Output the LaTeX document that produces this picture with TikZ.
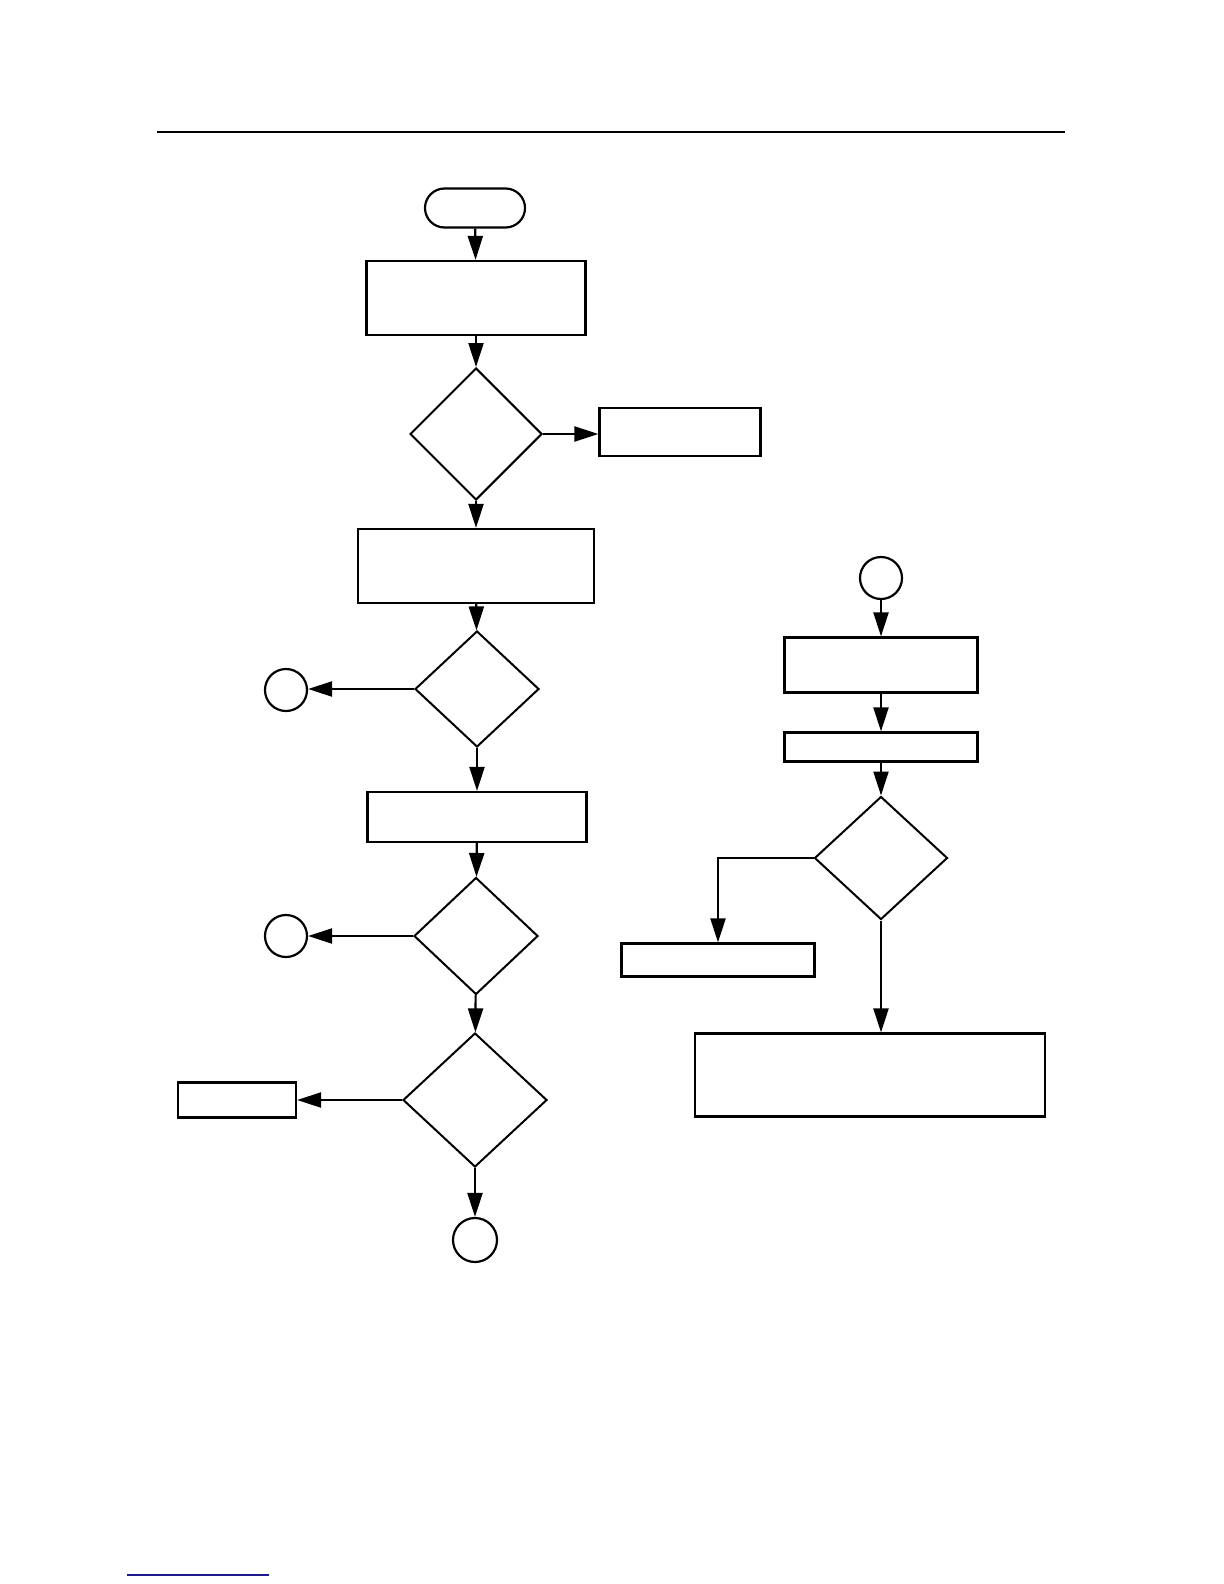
\documentclass[tikz,border=0pt]{standalone}
\usepackage{tikz}
\usetikzlibrary{arrows.meta,positioning,shapes.geometric,shapes.misc}
\definecolor{ink}{HTML}{000000}
\definecolor{linkblue}{HTML}{1A1A8C}
\tikzset{
  flowbox/.style={
    draw=ink,
    line width=1.1pt,
    fill=white,
    inner sep=0pt
  },
  termbox/.style={flowbox, rounded rectangle, minimum width=50pt, minimum height=19.5pt},
  decision/.style={flowbox, diamond, line width=1pt},
  joint/.style={flowbox, circle, minimum size=21pt},
  flowarrow/.style={-{Triangle[length=12pt,width=7.5pt]}, line width=1.1pt, draw=ink}
}

\begin{document}
\begin{tikzpicture}[x=0.5pt, y=-0.5pt]
  \useasboundingbox (0,0) rectangle (1224,1584);
  \draw[line width=1.2pt, draw=ink] (157,132) -- (1065,132);

  % main column
  \node[termbox] (start) at (475,208) {};
  \node[flowbox, minimum width=109.5pt, minimum height=37pt] (init) at (476,298) {};
  \node[decision, minimum width=66pt, minimum height=66pt] (chk1) at (476,434) {};
  \node[flowbox, minimum width=80.5pt, minimum height=24pt] (fail1) at (680,432) {};
  \node[flowbox, minimum width=118pt, minimum height=37pt] (load) at (476,566) {};
  \node[decision, minimum width=62pt, minimum height=58pt] (chk2) at (477,689) {};
  \node[joint] (jA) at (286,690) {};
  \node[flowbox, minimum width=109.5pt, minimum height=25pt] (prep) at (477,817) {};
  \node[decision, minimum width=62pt, minimum height=58.5pt] (chk3) at (476,936) {};
  \node[joint] (jB) at (286,936) {};
  \node[decision, minimum width=72pt, minimum height=67pt] (chk4) at (475,1100) {};
  \node[flowbox, minimum width=59pt, minimum height=17.5pt] (fail2) at (237,1100) {};
  \node[joint, minimum size=22pt] (jC) at (475,1240) {};

  % right column
  \node[joint] (jR) at (881,578) {};
  \node[flowbox, minimum width=96.5pt, minimum height=27.5pt] (rstep1) at (881,665) {};
  \node[flowbox, minimum width=96.5pt, minimum height=14.5pt] (rstep2) at (881,747) {};
  \node[decision, minimum width=66.5pt, minimum height=61.5pt] (rchk) at (881,858) {};
  \node[flowbox, minimum width=96.5pt, minimum height=16.5pt] (rno) at (718,960) {};
  \node[flowbox, minimum width=175pt, minimum height=41.5pt] (ryes) at (870,1075) {};

  \draw[flowarrow] (start) -- (init);
  \draw[flowarrow] (init) -- (chk1);
  \draw[flowarrow] (chk1.east) -- (chk1.east -| fail1.west);
  \draw[flowarrow] (chk1) -- (load);
  \draw[flowarrow] (load) -- (chk2);
  \draw[flowarrow] (chk2.west) -- (chk2.west -| jA.east);
  \draw[flowarrow] (chk2) -- (prep);
  \draw[flowarrow] (prep) -- (chk3);
  \draw[flowarrow] (chk3.west) -- (jB);
  \draw[flowarrow] (chk3) -- (chk4);
  \draw[flowarrow] (chk4.west) -- (fail2.east);
  \draw[flowarrow] (chk4) -- (jC);

  \draw[flowarrow] (jR) -- (rstep1);
  \draw[flowarrow] (rstep1) -- (rstep2);
  \draw[flowarrow] (rstep2) -- (rchk);
  \draw[flowarrow] (rchk.west) -| (rno.north);
  \draw[flowarrow] (rchk.south) -- (rchk.south |- ryes.north);

  \draw[line width=1pt, draw=linkblue] (127,1575) -- (269,1575);
\end{tikzpicture}
\end{document}
